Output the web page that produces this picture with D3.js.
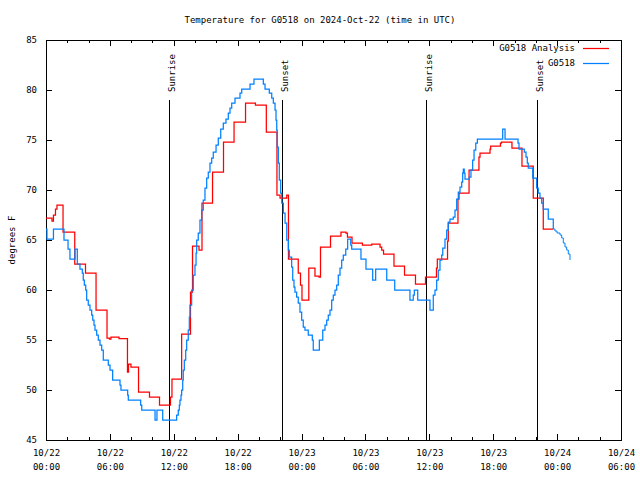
<!DOCTYPE html>
<html><head><meta charset="utf-8">
<script src="https://cdn.jsdelivr.net/npm/d3@7"></script>
<style>
body{margin:0;background:#fff;}
text{font-family:"DejaVu Sans Mono","Liberation Mono",monospace;font-size:9px;fill:#000;}
</style></head><body>
<svg id="c" width="640" height="480"></svg>
<script>
// ---- data (hours since 2024-10-22 00:00 UTC) ----
const titleText = "Temperature for G0518 on 2024-Oct-22 (time in UTC)";
const yLabel = "degrees F";
const seriesNames = ["G0518 Analysis", "G0518"];
const yTicks = [45,50,55,60,65,70,75,80,85];

const redHours = [0,0.56,0.70,0.89,1.03,1.60,2.70,3.71,4.70,5.73,5.96,6.10,6.86,7.65,7.75,7.98,8.69,9.72,10.66,11.69,11.83,12.74,13.57,13.76,14.37,14.65,15.64,16.67,17.66,18.74,19.67,20.69,21.69,21.98,22.61,22.77,23.69,23.90,24.04,24.68,25.26,25.64,25.78,26.72,27.70,28.17,28.31,28.74,29.71,30.59,31.37,31.53,31.70,32.68,33.67,34.70,35.64,36.67,36.75,37.71,37.78,38.69,38.79,39.73,40.66,40.76,41.70,41.76,42.68,42.78,43.76,44.70,45.76,46.70,47.64];
const redTemps = [67.2,66.9,67.5,68.1,68.5,65.8,62.6,61.7,58.0,55.2,55.1,55.3,55.15,51.8,52.6,52.3,49.8,49.3,48.5,49.3,51.1,55.6,59.8,64.4,64.0,68.7,71.8,74.8,76.8,78.7,78.5,75.8,69.5,69.2,69.5,63.1,61.7,60.5,59.0,62.2,61.4,61.3,64.3,65.4,65.8,65.7,65.3,64.7,64.5,64.6,64.3,64.0,63.6,62.4,61.5,60.6,61.3,62.2,63.1,64.9,66.7,69.1,69.7,72.0,73.3,73.7,74.1,74.4,74.7,74.8,74.2,72.4,69.2,66.1,66.1];

const blueHours = [0.00,0.09,0.70,1.69,2.07,2.25,2.72,2.94,3.19,3.41,3.50,3.60,3.73,3.82,3.97,4.13,4.29,4.39,4.51,4.60,4.76,4.91,5.07,5.23,5.38,5.85,6.01,6.26,6.95,7.04,7.67,7.73,8.89,8.99,10.24,10.42,10.96,12.27,12.42,12.52,12.58,12.68,12.74,12.84,12.89,12.99,13.12,13.21,13.36,13.46,13.52,13.68,13.83,13.99,14.09,14.15,14.30,14.46,14.62,14.77,14.93,15.09,15.24,15.40,15.56,15.71,15.97,16.18,16.41,16.65,16.90,17.12,17.28,17.44,17.75,18.22,18.38,19.16,19.53,20.41,20.57,20.97,21.20,21.35,21.51,21.60,21.67,21.72,21.82,21.91,22.04,22.14,22.29,22.45,22.61,22.76,22.85,23.07,23.17,23.29,23.38,23.54,23.69,23.85,24.01,24.16,24.32,24.63,25.01,25.10,25.67,25.99,26.20,26.36,26.51,26.67,26.83,26.98,27.14,27.30,27.45,27.61,27.77,27.92,28.15,28.33,28.62,28.71,29.58,30.05,30.68,30.96,32.00,32.75,34.18,34.49,34.59,34.91,36.06,36.37,36.53,36.69,36.84,37.00,37.16,37.26,37.47,37.63,37.78,37.94,38.25,38.41,38.57,38.72,38.88,39.04,39.13,39.19,39.28,39.35,39.75,39.91,40.07,40.20,40.36,40.51,42.89,43.11,44.33,44.42,44.92,45.08,45.20,45.29,45.71,46.08,46.23,46.39,46.55,46.70,47.17,47.64];
const blueTemps = [66.1,65.1,66.1,65.0,64.1,63.1,64.1,62.6,62.1,61.7,61.0,60.5,60.0,59.0,58.5,58.0,57.5,57.0,56.5,56.0,55.5,55.0,54.5,54.0,53.0,52.5,52.0,51.0,50.5,50.0,49.5,49.0,48.5,48.0,47.0,48.0,47.0,47.5,48.0,48.5,49.0,49.5,50.0,51.0,52.0,53.0,54.0,55.0,56.0,57.3,58.5,60.0,61.5,62.5,63.7,65.0,65.7,67.0,68.0,69.0,70.2,71.2,71.8,72.7,73.2,73.8,74.5,75.2,76.1,76.7,77.1,77.7,78.2,78.7,79.2,79.7,80.1,80.6,81.1,80.6,80.1,79.7,79.2,78.7,78.0,77.0,76.0,74.3,72.7,71.0,69.7,68.7,67.7,66.7,65.0,64.0,63.3,62.3,61.0,60.3,59.8,59.3,58.7,57.8,57.0,56.3,56.0,55.5,55.0,54.0,55.0,56.0,56.5,57.0,57.5,58.0,59.0,59.5,60.0,60.5,61.5,62.2,63.0,63.5,64.1,65.1,64.5,64.1,63.1,62.1,61.0,62.1,61.0,60.0,59.0,59.5,60.0,59.0,58.0,59.5,60.0,61.0,62.0,63.0,63.5,64.2,65.1,66.0,66.8,67.1,67.3,68.0,69.1,69.8,70.3,70.8,71.7,72.1,71.7,71.1,71.3,72.0,73.0,74.0,74.7,75.1,76.1,75.1,74.7,74.1,73.8,73.3,72.7,72.2,71.2,70.2,69.7,69.2,68.7,68.1,67.1,66.1];
const blueTailHours = [47.64,47.80,47.99,48.27,48.43,48.58,48.74,48.90,49.05,49.21];
const blueTailTemps = [66.1,65.9,65.7,65.5,65.2,64.7,64.3,64.0,63.6,63.0];

const sunHours = [11.55,22.16,35.69,46.11];
const sunLabels = ["Sunrise","Sunset","Sunrise","Sunset"];

// ---- chart ----
const t0 = Date.UTC(2024,9,22,0,0);
const toDate = h => new Date(t0 + h*3600e3);
const L=46,R=621,T=40,B=440;
const svg = d3.select("#c");
const x = d3.scaleUtc().domain([toDate(0), toDate(54)]).range([L,R]);
const y = d3.scaleLinear().domain([45,85]).range([B,T]);

const g = svg.append("g");
g.append("g").attr("transform",`translate(${L},0)`)
 .call(d3.axisLeft(y).tickValues(yTicks).tickSize(-6).tickSizeOuter(0).tickPadding(9))
 .call(s=>{s.select(".domain").remove();s.selectAll("text").attr("font-family",null).attr("font-size",null);});
g.append("g").attr("transform",`translate(${R},0)`)
 .call(d3.axisRight(y).tickValues(yTicks).tickSize(-6).tickSizeOuter(0).tickFormat(""))
 .call(s=>s.select(".domain").remove());
const majors = d3.utcHour.every(6).range(toDate(0), toDate(54.01));
const minors = d3.utcHour.every(2).range(toDate(0), toDate(54.01));
const fmt1 = d3.utcFormat("%m/%d"), fmt2 = d3.utcFormat("%H:%M");
const xb = g.append("g").attr("transform",`translate(0,${B})`)
 .call(d3.axisBottom(x).tickValues(majors).tickSize(-6).tickSizeOuter(0).tickFormat(""))
 .call(s=>s.select(".domain").remove());
xb.selectAll(".tick").each(function(d){
  const t = d3.select(this).append("text").attr("text-anchor","middle");
  t.append("tspan").attr("x",0).attr("y",16).text(fmt1(d));
  t.append("tspan").attr("x",0).attr("y",30).text(fmt2(d));
});
g.append("g").attr("transform",`translate(0,${B})`)
 .call(d3.axisBottom(x).tickValues(minors).tickSize(-3).tickSizeOuter(0).tickFormat(""))
 .call(s=>s.select(".domain").remove());
g.append("g").attr("transform",`translate(0,${T})`)
 .call(d3.axisTop(x).tickValues(majors).tickSize(-6).tickSizeOuter(0).tickFormat(""))
 .call(s=>s.select(".domain").remove());
g.append("g").attr("transform",`translate(0,${T})`)
 .call(d3.axisTop(x).tickValues(minors).tickSize(-3).tickSizeOuter(0).tickFormat(""))
 .call(s=>s.select(".domain").remove());
svg.selectAll(".tick line").attr("stroke","#000").attr("shape-rendering","crispEdges");

svg.append("rect").attr("x",L).attr("y",T).attr("width",R-L).attr("height",B-T)
 .attr("fill","none").attr("stroke","#000").attr("shape-rendering","crispEdges");

sunHours.forEach((h,i)=>{
  const xx = Math.round(x(toDate(h)))+0.5;
  svg.append("line").attr("x1",xx).attr("x2",xx).attr("y1",100).attr("y2",B)
   .attr("stroke","#000").attr("stroke-width",1);
  svg.append("text").attr("transform",`translate(${xx+5},92) rotate(-90)`)
   .attr("text-anchor","start").text(sunLabels[i]);
});

const line = d3.line().curve(d3.curveStepAfter).x(d=>x(toDate(d[0]))).y(d=>y(d[1]));
svg.append("path").datum(d3.zip(redHours,redTemps))
 .attr("d",line).attr("fill","none").attr("stroke","#ff0000").attr("stroke-width",1.25);
svg.append("path").datum(d3.zip(blueHours,blueTemps))
 .attr("d",line).attr("fill","none").attr("stroke","#0080ff").attr("stroke-width",1.25);
svg.append("path").datum(d3.zip(blueTailHours,blueTailTemps))
 .attr("d",line).attr("fill","none").attr("stroke","#0080ff").attr("stroke-width",1);

const lgColors = ["#ff0000","#0080ff"];
seriesNames.forEach((n,i)=>{
  const yy = 48 + i*15;
  svg.append("text").attr("x",575).attr("y",yy+3).attr("text-anchor","end").text(n);
  svg.append("line").attr("x1",583).attr("x2",609).attr("y1",yy+0.5).attr("y2",yy+0.5)
   .attr("stroke",lgColors[i]).attr("stroke-width",1.25);
});

svg.append("text").attr("x",320).attr("y",23).attr("text-anchor","middle").text(titleText);
svg.append("text").attr("transform","translate(15,240) rotate(-90)").attr("text-anchor","middle").text(yLabel);
</script></body></html>
